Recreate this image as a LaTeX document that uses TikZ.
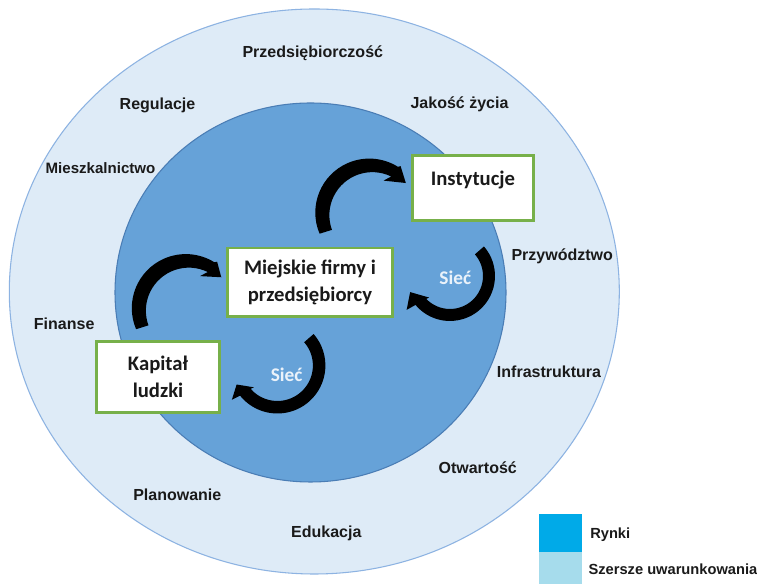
\documentclass[tikz,border=0pt]{standalone}
\usepackage{fontspec}
\setmainfont{Liberation Sans}
\newfontfamily\boxfont{Carlito}
\definecolor{ringfill}{HTML}{DEEBF7}
\definecolor{ringline}{HTML}{8DB3E2}
\definecolor{corefill}{HTML}{66A2D8}
\definecolor{coreline}{HTML}{4A7DB5}
\definecolor{boxgreen}{HTML}{77B04A}
\definecolor{labeltext}{HTML}{1A1A1A}
\definecolor{netwhite}{HTML}{EAF2FA}
\definecolor{marketblue}{HTML}{00AAE8}
\definecolor{widerblue}{HTML}{A6DCEC}
\begin{document}
\begin{tikzpicture}[x=0.75pt,y=0.75pt,
  factor/.style={font=\bfseries\fontsize{12}{14}\selectfont, text=labeltext, inner sep=0pt, anchor=base},
  actor/.style={draw=boxgreen, line width=1.9pt, fill=white, text=labeltext,
    font=\boxfont\bfseries\fontsize{15.5}{20.5}\selectfont, align=center, inner sep=0pt},
  actortext/.style={font=\boxfont\bfseries\fontsize{15.5}{20.5}\selectfont, text=labeltext, inner sep=0pt, anchor=base},
  netlabel/.style={font=\boxfont\bfseries\fontsize{14.5}{16}\selectfont, text=netwhite, inner sep=0pt, anchor=base},
  bentarrow/.style={fill=black},
  legendtext/.style={font=\bfseries\fontsize{11}{13}\selectfont, text=labeltext, inner sep=0pt, anchor=base west}]
\useasboundingbox (0,0) rectangle (757,584);
\fill[white] (0,0) rectangle (757,584);

% wider conditions ring and the market core
\draw[fill=ringfill, draw=ringline, line width=0.8pt] (314.3,292.5) ellipse [x radius=305, y radius=282.5];
\draw[fill=corefill, draw=coreline, line width=0.8pt] (310.5,291.5) ellipse [x radius=195.5, y radius=189.5];

% factors in the outer ring
\node[factor] (f1) at (312.8,526.7) {Przedsiębiorczość};
\node[factor] (f2) at (157.5,474) {Regulacje};
\node[factor] (f3) at (459.5,475) {Jakość życia};
\node[factor, font=\bfseries\fontsize{11.3}{13}\selectfont] (f4) at (100.5,410) {Mieszkalnictwo};
\node[factor] (f5) at (562.2,323.3) {Przywództwo};
\node[factor] (f6) at (64.2,254.7) {Finanse};
\node[factor] (f7) at (549,206.3) {Infrastruktura};
\node[factor] (f8) at (477.7,110.7) {Otwartość};
\node[factor] (f9) at (177.3,83.3) {Planowanie};
\node[factor] (f10) at (326.3,46.7) {Edukacja};

% curved arrows between the actors (tapering band, wedge head)
\begin{scope}[shift={(369.3,371.4)}]
  \fill[bentarrow] (203:54) arc[start angle=203, end angle=58, radius=54]
    -- (56:56) -- (39:47) -- (66:35) -- ([shift={(3.06,-2.57)}]64:43)
    arc[start angle=64, end angle=200, radius=43] -- cycle;
\end{scope}
\begin{scope}[shift={(185.8,275.9)}]
  \fill[bentarrow] (203:54) arc[start angle=203, end angle=58, radius=54]
    -- (56:56) -- (41:47) -- (66:35) -- ([shift={(3.06,-2.57)}]64:43)
    arc[start angle=64, end angle=200, radius=43] -- cycle;
\end{scope}
\begin{scope}[shift={(450,308)}]
  \fill[bentarrow] (41:45) arc[start angle=41, end angle=-140, radius=45]
    -- (-142:55) -- (-158:43) -- (-134:30) -- (-136:33)
    arc[start angle=-136, end angle=41, radius=33] -- cycle;
\end{scope}
\begin{scope}[shift={(277.4,218.5)}]
  \fill[bentarrow] (41:48) arc[start angle=41, end angle=-141, radius=48]
    -- (-143:57) -- (-155:45) -- (-137:32) -- (-139:35.5)
    arc[start angle=-139, end angle=41, radius=35.5] -- cycle;
\end{scope}

% actors
\node[actor, minimum width=91.1pt, minimum height=49.1pt] (inst) at (473,396) {};
\node[actortext] (insttext) at (473,398.7) {Instytucje};
\node[actor, minimum width=124.1pt, minimum height=51.4pt] (firms) at (310,301.5) {Miejskie firmy i\\przedsiębiorcy};
\node[actor, minimum width=92.6pt, minimum height=53.6pt] (human) at (158,207) {Kapitał\\ludzki};

\node[netlabel] (net1) at (455.3,299.7) {Sieć};
\node[netlabel] (net2) at (286.7,202.3) {Sieć};

% legend
\fill[marketblue] (539.3,31.7) rectangle (581.7,70) coordinate (keyone);
\fill[widerblue] (539.3,0) rectangle (581.7,31.7) coordinate (keytwo);
\node[legendtext] (leg1) at (590,45.7) {Rynki};
\node[legendtext] (leg2) at (588.3,9) {Szersze uwarunkowania};
\end{tikzpicture}
\end{document}
